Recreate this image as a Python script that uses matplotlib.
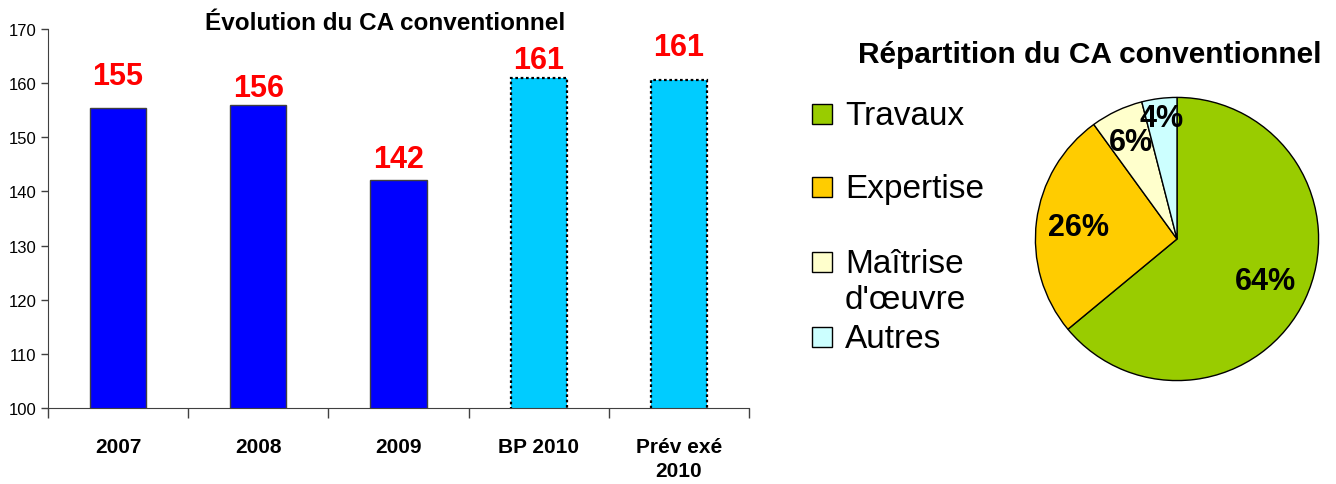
import matplotlib
matplotlib.use("Agg")
import matplotlib.pyplot as plt
import numpy as np
from matplotlib.patches import Rectangle

plt.rcParams['font.family'] = ['Liberation Sans', 'DejaVu Sans']

# Bar chart data
categories = ['2007', '2008', '2009', 'BP 2010', 'Prév exé\n2010']
ca_values = [155.4, 155.9, 142.2, 161.0, 160.6]
ca_labels = ['155', '156', '142', '161', '161']
label_offsets = [12, 2, 4, 2, 13]  # points above the bar top

# Pie chart data
parts = ['Travaux', 'Expertise', "Maîtrise\nd'œuvre", 'Autres']
part_pct = [64, 26, 6, 4]
pie_colors = ['#99CC00', '#FFCC00', '#FFFFCC', '#CCFFFF']
pct_dist = [0.69, 0.70, 0.76, 0.86]

W, H = 1336, 485
fig = plt.figure(figsize=(W / 100, H / 100), dpi=100)

# ---- Bar chart ----
ax = fig.add_axes([48 / W, 1 - 409 / H, 701 / W, 379 / H])
x = np.arange(len(categories))
bar_face = ['#0000FF', '#0000FF', '#0000FF', '#00CCFF', '#00CCFF']
bars = ax.bar(x, ca_values, width=0.40, color=bar_face, zorder=2)
for i, b in enumerate(bars):
    if i < 3:
        b.set_edgecolor('#404040')
        b.set_linewidth(1)
    else:
        b.set_edgecolor('black')
        b.set_linewidth(1.6)
        b.set_linestyle((0, (1.2, 1.2)))

for i, b in enumerate(bars):
    ax.annotate(ca_labels[i], (b.get_x() + b.get_width() / 2, b.get_height()),
                xytext=(0, label_offsets[i]), textcoords='offset points',
                ha='center', va='bottom', color='#FF0000',
                fontsize=22, fontweight='bold')

ax.set_ylim(100, 170)
ax.set_xlim(-0.5, len(categories) - 0.5)
ax.set_yticks(np.arange(100, 171, 10))
ax.tick_params(axis='y', labelsize=12, length=5, width=1, color='#404040')
ax.set_xticks(x)
ax.set_xticklabels(categories, fontsize=15, fontweight='bold')
for t in ax.get_xticklabels():
    t.set_linespacing(1.35)
ax.tick_params(axis='x', which='major', length=0, pad=21)
ax.set_xticks(np.arange(-0.5, len(categories), 1), minor=True)
ax.tick_params(axis='x', which='minor', length=7, width=1, color='#404040')
for spine in ['top', 'right']:
    ax.spines[spine].set_visible(False)
for spine in ['left', 'bottom']:
    ax.spines[spine].set_color('#404040')

fig.text(385 / W, 1 - 24 / H, 'Évolution du CA conventionnel',
         ha='center', va='center', fontsize=17.5, fontweight='bold')

# ---- Pie chart ----
cx, cy, r = 1177, 240, 143
pax = fig.add_axes([(cx - r) / W, 1 - (cy + r) / H, 2 * r / W, 2 * r / H])
wedges, _ = pax.pie(part_pct, colors=pie_colors, startangle=90, counterclock=False,
                    wedgeprops=dict(edgecolor='black', linewidth=1))
for w, p, d in zip(wedges, part_pct, pct_dist):
    ang = np.deg2rad((w.theta1 + w.theta2) / 2)
    pax.text(d * np.cos(ang), d * np.sin(ang), f'{p}%', ha='center', va='center',
             fontsize=22, fontweight='bold')
pax.set_xlim(-1.01, 1.01)
pax.set_ylim(-1.01, 1.01)
pax.set_aspect('equal')

fig.text(1090 / W, 1 - 55 / H, 'Répartition du CA conventionnel',
         ha='center', va='center', fontsize=21.5, fontweight='bold')

# legend drawn by hand so the two-line entry keeps its handle on the first line
leg_y = [115, 188, 263, 338]
for name, col, yy in zip(parts, pie_colors, leg_y):
    fig.add_artist(Rectangle((812 / W, 1 - (yy + 10) / H), 20 / W, 20 / H,
                             transform=fig.transFigure, facecolor=col,
                             edgecolor='black', linewidth=1))
    fig.text(845 / W, 1 - (yy - 14) / H, name, ha='left', va='top',
             fontsize=24, linespacing=1.2)

fig.savefig('out.png', dpi=100)
